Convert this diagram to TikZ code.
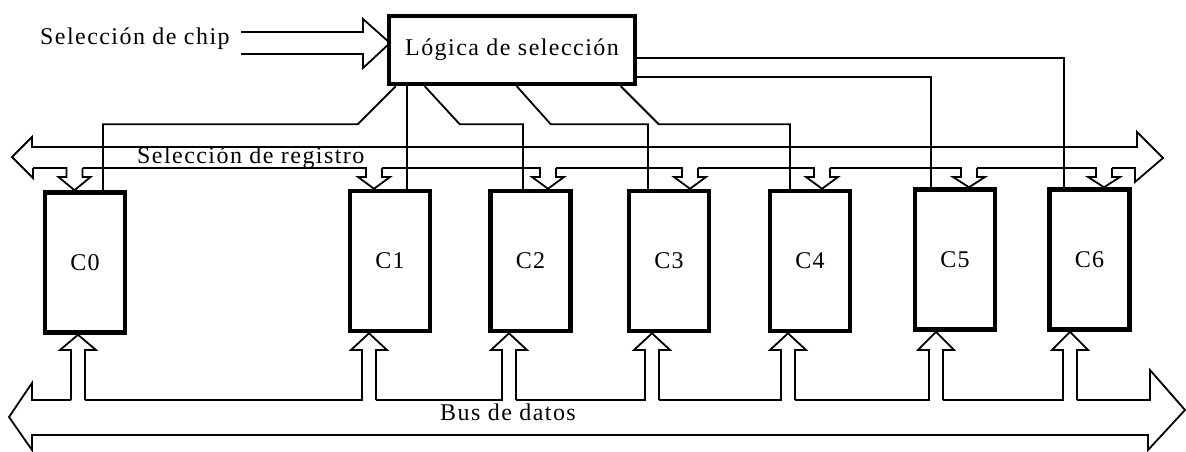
\documentclass[tikz,border=0pt]{standalone}
\usepackage{fontspec}
\setmainfont{Liberation Serif}[LetterSpace=6]
\tikzset{
  reg/.style={draw, line width=4.5pt, minimum width=80pt, minimum height=140pt, inner sep=0pt},
  wire/.style={line width=1.8pt},
  txt/.style={anchor=base west, inner sep=0pt},
}
\begin{document}
\begin{tikzpicture}[x=1pt, y=-1pt, every node/.style={font=\fontsize{24}{28}\selectfont}]
    \useasboundingbox (0,0) rectangle (1186,451);

    \node[txt] (chip) at (40,44) {Selección de chip};
    \node[draw, line width=4.5pt, minimum width=246pt, minimum height=68pt, inner sep=0pt] (logic) at (512,50) {Lógica de selección};
    \node[reg] (C0) at (85,262.5) {C0};
    \node[reg] (C1) at (390,261) {C1};
    \node[reg] (C2) at (530.5,261) {C2};
    \node[reg] (C3) at (669,261) {C3};
    \node[reg] (C4) at (810,261) {C4};
    \node[reg] (C5) at (955,259.5) {C5};
    \node[reg] (C6) at (1089.5,259.5) {C6};
    \node[txt] (regsel) at (137,163) {Selección de registro};
    \node[txt] (datos) at (440,420) {Bus de datos};

    % chip select into the logic
    \draw[wire] (241,32) -- (363,32) -- (363,19) -- (390,43) -- (363,68) -- (363,54) -- (241,54);

    % select lines
    \draw[wire] (logic.south west) ++(9,0) -- ++(-38,38) -| (103,0 |- C0.north);
    \draw[wire] (407,0 |- logic.south) -- (407,0 |- C1.north);
    \draw[wire] (logic.south west) ++(38,0) -- ++(35,38) -| (523,0 |- C2.north);
    \draw[wire] (logic.south west) ++(130,0) -- ++(34,38) -| (648,0 |- C3.north);
    \draw[wire] (logic.south west) ++(234,0) -- ++(38,38) -| (790,0 |- C4.north);
    \draw[wire] (logic.east |- 0,77) -| (931,0 |- C5.north);
    \draw[wire] (logic.east |- 0,58) -| (1064,0 |- C6.north);

    % register select bus
    \draw[wire] (33,168) -- (33,178) -- (12,157) -- (32,137) -- (32,147) -- (1137,147) -- (1137,132)
        -- (1163,158) -- (1135,182) -- (1135,168) -- (1112,168);
    \foreach \x/\r [remember=\x as \px (initially 25)] in {74.5/C0, 374/C1, 548/C2, 690/C3, 822/C4, 969/C5, 1104/C6}
        \draw[wire] ({\px+8},168) -- ({\x-8},168) -- ({\x-8},177) -- ({\x-16},177) -- (\x,0 |- \r.north)
            -- ({\x+16},177) -- ({\x+8},177) -- ({\x+8},168);

    % data bus
    \draw[wire] (71,400) -- (32,400) -- (32,383) -- (9,417) -- (32,450) -- (32,435) -- (1148,435)
        -- (1148,450) -- (1185,410) -- (1150,370) -- (1150,400) -- (1077,400);
    \foreach \x/\r [remember=\x as \px (initially 64)] in {78/C0, 369/C1, 509/C2, 652/C3, 788/C4, 936/C5, 1070/C6}
        \draw[wire] ({\px+7},400) -- ({\x-7},400) -- ({\x-7},350) -- ({\x-18},350) -- (\x,0 |- \r.south)
            -- ({\x+18},350) -- ({\x+7},350) -- ({\x+7},400);
\end{tikzpicture}
\end{document}
